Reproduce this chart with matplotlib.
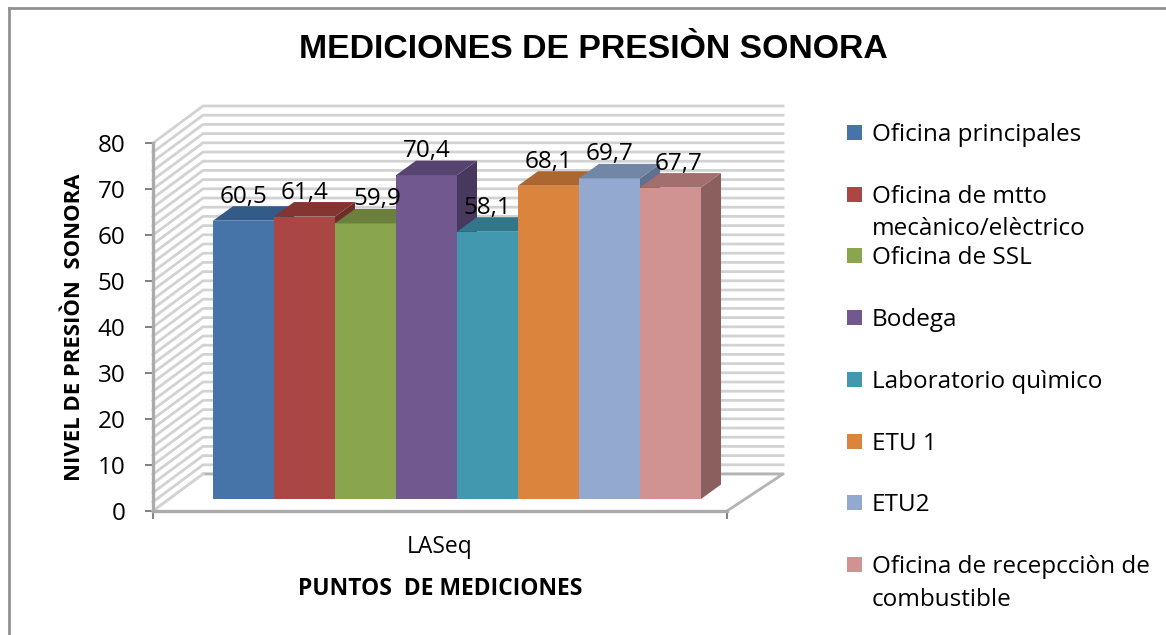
import matplotlib
matplotlib.use("Agg")
from matplotlib import pyplot as plt
from matplotlib.lines import Line2D
from matplotlib.patches import Polygon, Rectangle

series = ["Oficina principales", "Oficina de mtto\nmecànico/elèctrico", "Oficina de SSL", "Bodega",
          "Laboratorio quìmico", "ETU 1", "ETU2", "Oficina de recepcciòn de\ncombustible"]
values = [60.5, 61.4, 59.9, 70.4, 58.1, 68.1, 69.7, 67.7]
value_labels = ["60,5", "61,4", "59,9", "70,4", "58,1", "68,1", "69,7", "67,7"]
category = "LASeq"
yticks = [0, 10, 20, 30, 40, 50, 60, 70, 80]

colors = ["#4674A9", "#AA4643", "#89A54E", "#71588F", "#4198AF", "#DB843D", "#93A9CF", "#D19392"]
top_colors = ["#345A88", "#843532", "#6A803C", "#57436F", "#327689", "#AB672F", "#7286A5", "#A36F6E"]
side_colors = ["#2C4C73", "#6F2D2A", "#597032", "#49385D", "#2A6374", "#905727", "#607190", "#8A5F5E"]
label_shift = [0, 0, 12, 0, 0, 0, 0, 8]

W, H = 1166, 635
plt.rcParams["font.family"] = "Open Sans"
fig = plt.figure(figsize=(W / 100, H / 100), dpi=100)


def px(x, y):
    return x / W, 1 - y / H


# front plane of the chart, 153..727 px wide and 143..511 px tall
ax = fig.add_axes([153 / W, 1 - 511 / H, 574 / W, 368 / H])
ax.set_xlim(-0.5, 0.5)
ax.set_ylim(0, 80)
ax.patch.set_alpha(0)
xu = 1 / 574
yu = 80 / 368

# walls
wall_dx, wall_dy = 50 * xu, 37 * yu
right_dx = 56 * xu
for v in range(0, 81, 2):
    ax.plot([-0.5, -0.5 + wall_dx, 0.5 + right_dx], [v, v + wall_dy, v + wall_dy],
            color="#D2D2D2", lw=2, clip_on=False, zorder=1, solid_joinstyle="miter")
ax.add_patch(Polygon([(-0.5, 0), (-0.5 + wall_dx, wall_dy), (0.5 + right_dx, wall_dy), (0.5, 0)],
                     closed=True, facecolor="white", edgecolor="none", clip_on=False, zorder=1.5))
ax.plot([-0.5 + wall_dx, 0.5 + right_dx, 0.5], [wall_dy, wall_dy, 0],
        color="#B4B4B4", lw=2, clip_on=False, zorder=1.6)
ax.plot([-0.5, -0.5 + wall_dx], [0, wall_dy], color="#D2D2D2", lw=2, clip_on=False, zorder=1.6)

# bars, drawn left to right so each one covers the side of the one before
bar_w = 61 * xu
shift_x, shift_y = 17 * xu, 12 * yu
depth_x, depth_y = 20 * xu, 14.5 * yu
for i, v in enumerate(values):
    left = (i - 4) * bar_w + shift_x
    right = left + bar_w
    top = v + shift_y
    z = 3 + i
    ax.bar(left, v, width=bar_w, bottom=shift_y, align="edge", color=colors[i], zorder=z, clip_on=False)
    ax.add_patch(Polygon([(right, shift_y), (right + depth_x, shift_y + depth_y),
                          (right + depth_x, top + depth_y), (right, top)],
                         closed=True, facecolor=side_colors[i], edgecolor="none", clip_on=False, zorder=z))
    ax.add_patch(Polygon([(left, top), (right, top), (right + depth_x, top + depth_y), (left + depth_x, top + depth_y)],
                         closed=True, facecolor=top_colors[i], edgecolor="none", clip_on=False, zorder=z))

for i, v in enumerate(values):
    cx = (i - 3.5) * bar_w + shift_x
    ax.annotate(value_labels[i], (cx, v + shift_y), xytext=(label_shift[i] * 0.72, 24 * 0.72),
                textcoords="offset points", ha="center", va="center", fontsize=17.5, color="black",
                zorder=20, annotation_clip=False)

# axes lines
for s in ["top", "right"]:
    ax.spines[s].set_visible(False)
for s in ["left", "bottom"]:
    ax.spines[s].set_color("#ABABAB")
    ax.spines[s].set_linewidth(2.4)
    ax.spines[s].set_zorder(2)
ax.set_yticks(yticks)
ax.tick_params(axis="y", length=6, width=1.4, color="#808080", labelsize=17.5, pad=14, labelcolor="black")
ax.set_xticks([-0.5, 0.5])
ax.set_xticklabels(["", ""])
ax.tick_params(axis="x", length=6, width=1.4, color="#808080")

# texts
fig.text(*px(440, 547), category, ha="center", va="center", fontsize=16.5)
fig.text(*px(440, 589), "PUNTOS  DE MEDICIONES", ha="center", va="center", fontsize=16.5, fontweight="bold")
fig.text(*px(75, 327), "NIVEL DE PRESIÒN  SONORA", rotation=90, ha="center", va="center",
         fontsize=15.9, fontweight="bold")
fig.text(*px(593, 49), "MEDICIONES DE PRESIÒN SONORA", ha="center", va="center", fontsize=24.3,
         fontweight="bold", family="Liberation Sans")

# legend
for i, name in enumerate(series):
    yc = 133 + 61.7 * i
    x0, y0 = px(847, yc + 7)
    fig.add_artist(Rectangle((x0, y0), 15 / W, 15 / H, transform=fig.transFigure,
                             facecolor=colors[i], edgecolor="none"))
    fig.text(*px(872, yc - 10), name, ha="left", va="top", fontsize=17.5, linespacing=1.48)

# chart border, only the top and left edges are inside the picture
fig.add_artist(Line2D([9 / W, 9 / W], [0, 1 - 8 / H], transform=fig.transFigure, color="#929292", lw=2))
fig.add_artist(Line2D([9 / W, 1], [1 - 8 / H, 1 - 8 / H], transform=fig.transFigure, color="#929292", lw=2))

fig.savefig("out.png", dpi=100, facecolor="white")
